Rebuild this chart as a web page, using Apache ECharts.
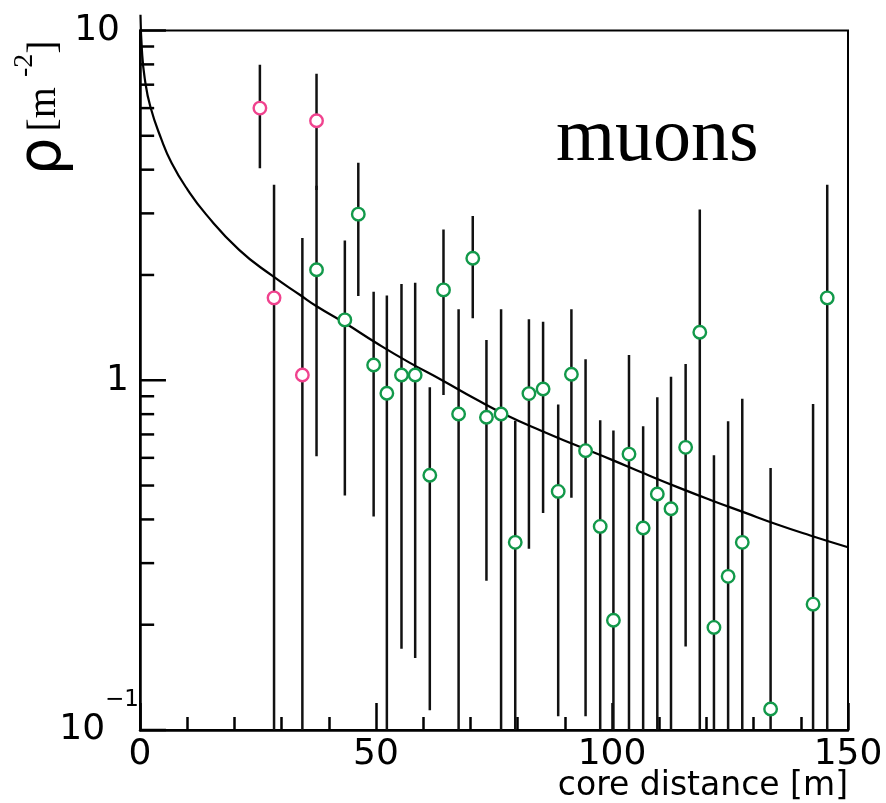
<!DOCTYPE html>
<html>
<head>
<meta charset="utf-8">
<script src="https://cdn.jsdelivr.net/npm/echarts@6/dist/echarts.min.js"></script>
<style>
  html, body { margin: 0; padding: 0; background: #fff; }
  #chart { width: 886px; height: 803px; }
</style>
</head>
<body>
<div id="chart"></div>
<script>
// Muon density per station: core distance [m], density [m^-2], lower / upper error limit
// (a lower limit of 0 means the error bar reaches zero density)
const pinkR   = [25.4, 28.4, 34.4, 37.4];
const pinkRho = [6.0, 1.72, 1.035, 5.52];
const pinkLo  = [4.04, 0, 0, 3.5];
const pinkHi  = [7.98, 3.62, 2.55, 7.52];

const greenR   = [37.4, 43.4, 46.25, 49.5, 52.3, 55.4, 58.3, 61.4, 64.3, 67.5, 70.5, 73.4, 76.5, 79.5, 82.4, 85.4, 88.6, 91.4, 94.4, 97.5, 100.3, 103.6, 106.6, 109.6, 112.5, 115.6, 118.6, 121.6, 124.6, 127.6, 133.6, 142.6, 145.6];
const greenRho = [2.07, 1.488, 2.985, 1.106, 0.918, 1.035, 1.035, 0.535, 1.813, 0.801, 2.233, 0.784, 0.801, 0.344, 0.916, 0.944, 0.481, 1.04, 0.629, 0.382, 0.206, 0.615, 0.378, 0.473, 0.429, 0.643, 1.372, 0.1965, 0.275, 0.344, 0.1148, 0.229, 1.72];
const greenLo  = [0.606, 0.468, 1.742, 0.408, 0, 0.1707, 0.1606, 0.1138, 0.908, 0, 1.504, 0.267, 0, 0, 0.33, 0.417, 0.1094, 0.461, 0.1094, 0, 0, 0, 0, 0, 0, 0.1734, 0, 0, 0, 0, 0, 0, 0];
const greenHi  = [3.6, 2.51, 4.19, 1.79, 1.746, 1.886, 1.90, 0.955, 2.70, 1.596, 2.95, 1.304, 1.596, 0.766, 1.495, 1.471, 0.852, 1.596, 1.148, 0.768, 0.718, 1.181, 0.739, 0.894, 1.024, 1.113, 3.08, 0.61, 0.763, 0.886, 0.561, 0.855, 3.62];

// Lateral distribution fit, sampled along core distance
const fitR   = [0.1, 0.4, 1, 2.2, 4.5, 6.7, 10, 14, 21, 28, 34, 37.5, 43.5, 50, 57, 64, 71, 78, 85, 92, 100, 107, 114, 121, 128, 135, 142, 150];
const fitRho = [11.1, 8.8, 7.3, 6.05, 4.9, 4.18, 3.52, 2.98, 2.36, 1.99, 1.75, 1.625, 1.455, 1.28, 1.125, 1.0, 0.885, 0.79, 0.717, 0.655, 0.592, 0.54, 0.494, 0.454, 0.419, 0.387, 0.36, 0.333];

// Axis ranges and ticks
const X_MIN = 0, X_MAX = 150, X_STEP = 50;
const Y_MIN = 0.1, Y_MAX = 10;
const yMajorTicks = [0.1, 1, 10];
const yMinorTicks = [0.2, 0.3, 0.4, 0.5, 0.6, 0.7, 0.8, 0.9, 2, 3, 4, 5, 6, 7, 8, 9];
// inward tick length on the left axis, in metres of core distance
const Y_MAJOR_LEN = 5.5, Y_MINOR_LEN = 3;

const PINK = '#f0428e';
const GREEN = '#12994a';
const SANS = '"DejaVu Sans", "Liberation Sans", sans-serif';
const SERIF = '"Liberation Serif", "DejaVu Serif", serif';

const chart = echarts.init(document.getElementById('chart'), null, { renderer: 'canvas' });

function barData(r, lo, hi) {
  return r.map((v, i) => [v, lo[i], hi[i]]);
}

function renderErrorBar(params, api) {
  const x = api.value(0);
  const lo = Math.max(api.value(1), Y_MIN);
  const hi = api.value(2);
  const p1 = api.coord([x, lo]);
  const p2 = api.coord([x, hi]);
  return {
    type: 'line',
    shape: { x1: p1[0], y1: p1[1], x2: p2[0], y2: p2[1] },
    style: { stroke: '#111', lineWidth: 2.5 }
  };
}

// Left-axis ticks as thin bars centred half a tick length inside the axis
function tickBars(values, len) {
  return values.map(v => [X_MIN + len / 2, v, len]);
}
function renderTickBar(params, api) {
  const c = api.coord([api.value(0), api.value(1)]);
  const half = api.value(2) / 2;
  const a = api.coord([api.value(0) - half, api.value(1)]);
  const b = api.coord([api.value(0) + half, api.value(1)]);
  return {
    type: 'rect',
    shape: { x: a[0], y: c[1] - 1.25, width: b[0] - a[0], height: 2.5 },
    style: { fill: '#000' }
  };
}

const tickLine = { color: '#000', width: 2.5 };

const option = {
  backgroundColor: '#fff',
  animation: false,
  grid: {
    left: 140, right: 38, top: 30.5, bottom: 73,
    show: true, borderColor: '#000', borderWidth: 2,
    containLabel: false, outerBoundsMode: 'none'
  },
  xAxis: {
    type: 'value', min: X_MIN, max: X_MAX, interval: X_STEP,
    axisLine: { show: true, onZero: false, lineStyle: tickLine },
    axisTick: { show: true, inside: true, length: 27, lineStyle: tickLine },
    minorTick: { show: true, splitNumber: 5, length: 13, lineStyle: tickLine },
    splitLine: { show: false },
    minorSplitLine: { show: false },
    axisLabel: { fontFamily: SANS, fontSize: 36, color: '#000', margin: 7 }
  },
  yAxis: {
    type: 'log', logBase: 10, min: Y_MIN, max: Y_MAX,
    axisLine: { show: true, onZero: false, lineStyle: tickLine },
    axisTick: { show: false },
    minorTick: { show: false },
    splitLine: { show: false },
    axisLabel: {
      margin: 1,
      color: '#000',
      customValues: yMajorTicks,
      formatter: function (v) {
        const e = Math.round(Math.log10(v));
        if (e >= 1) return '{n|10}';
        if (e === 0) return '{o|1}';
        return '{b|10}{s|\u22121}';
      },
      rich: {
        n: { fontFamily: SANS, fontSize: 36, color: '#000', padding: [0, 19, 0, 0] },
        o: { fontFamily: SANS, fontSize: 36, color: '#000', padding: [0, 10, 0, 0] },
        b: { fontFamily: SANS, fontSize: 36, color: '#000', lineHeight: 82, verticalAlign: 'middle' },
        s: { fontFamily: SANS, fontSize: 23, color: '#000', lineHeight: 25, verticalAlign: 'top' }
      }
    }
  },
  graphic: [
    {
      type: 'text',
      x: 556, y: 140,
      style: {
        text: 'muons',
        fontFamily: SERIF, fontSize: 76, fill: '#000',
        textVerticalAlign: 'middle', verticalAlign: 'middle'
      }
    },
    {
      type: 'text',
      x: 848, y: 786,
      style: {
        text: 'core distance [m]',
        fontFamily: SANS, fontSize: 33, fill: '#000',
        textAlign: 'right', align: 'right',
        textVerticalAlign: 'middle', verticalAlign: 'middle'
      }
    },
    {
      type: 'text',
      x: 44, y: 108,
      rotation: Math.PI / 2,
      style: {
        text: '{r|\u03c1}{g| }{m|[m }{s|-2}{m|]}',
        textAlign: 'center', align: 'center',
        textVerticalAlign: 'middle', verticalAlign: 'middle',
        rich: {
          r: { fontFamily: SANS, fontSize: 60, fill: '#000', lineHeight: 66, verticalAlign: 'middle' },
          g: { fontFamily: SERIF, fontSize: 24, fill: '#000', lineHeight: 66, verticalAlign: 'middle' },
          m: { fontFamily: SERIF, fontSize: 40, fill: '#000', lineHeight: 66, verticalAlign: 'middle' },
          s: { fontFamily: SERIF, fontSize: 28, fill: '#000', lineHeight: 40, verticalAlign: 'top' }
        }
      }
    }
  ],
  series: [
    {
      type: 'custom', name: 'error pink',
      renderItem: renderErrorBar,
      data: barData(pinkR, pinkLo, pinkHi),
      encode: { x: 0, y: 2 },
      clip: true, z: 2
    },
    {
      type: 'custom', name: 'error green',
      renderItem: renderErrorBar,
      data: barData(greenR, greenLo, greenHi),
      encode: { x: 0, y: 2 },
      clip: true, z: 2
    },
    {
      type: 'custom', name: 'left ticks',
      renderItem: renderTickBar,
      data: tickBars(yMajorTicks, Y_MAJOR_LEN).concat(tickBars(yMinorTicks, Y_MINOR_LEN)),
      encode: { x: 0, y: 1 },
      clip: false, z: 7
    },
    {
      type: 'line', name: 'fit',
      data: fitR.map((r, i) => [r, fitRho[i]]),
      smooth: 0.5,
      showSymbol: false, symbol: 'none',
      lineStyle: { color: '#000', width: 2.2 },
      clip: false, z: 3
    },
    {
      type: 'scatter', name: 'pink',
      data: pinkR.map((r, i) => [r, pinkRho[i]]),
      symbol: 'circle', symbolSize: 12.5,
      itemStyle: { color: '#fff', borderColor: PINK, borderWidth: 2.4, opacity: 1 },
      z: 4
    },
    {
      type: 'scatter', name: 'green',
      data: greenR.map((r, i) => [r, greenRho[i]]),
      symbol: 'circle', symbolSize: 12.5,
      itemStyle: { color: '#fff', borderColor: GREEN, borderWidth: 2.4, opacity: 1 },
      z: 4
    }
  ]
};

chart.setOption(option);
</script>
</body>
</html>
